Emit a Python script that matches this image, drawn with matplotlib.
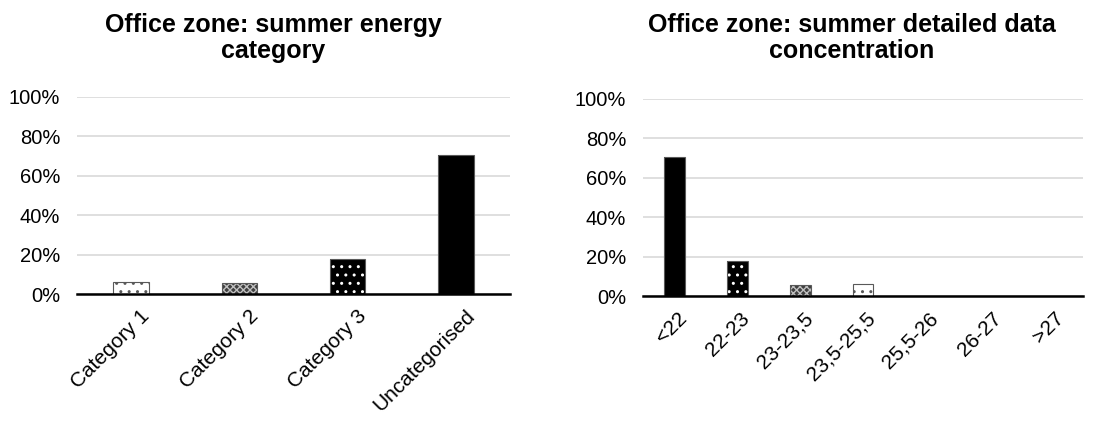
import matplotlib.pyplot as plt
import matplotlib.transforms as mtransforms
from matplotlib.ticker import PercentFormatter

plt.rcParams['font.family'] = ['Liberation Sans', 'DejaVu Sans']
plt.rcParams['hatch.linewidth'] = 1.0

# Data
energy_categories = ['Category 1', 'Category 2', 'Category 3', 'Uncategorised']
energy_values = [6.0, 5.5, 18.0, 70.5]

temp_ranges = ['<22', '22-23', '23-23,5', '23,5-25,5', '25,5-26', '26-27', '>27']
temp_values = [70.5, 18.0, 5.5, 6.0, 0.0, 0.0, 0.0]

# Fill style per category (face, hatch, hatch colour)
styles = {
    'Category 1': ('white', '..', '#595959'),
    'Category 2': ('#404040', 'xxxxx', '#bfbfbf'),
    'Category 3': ('black', '..', 'white'),
    'Uncategorised': ('black', '', 'black'),
}
temp_styles = ['Uncategorised', 'Category 3', 'Category 2', 'Category 1',
               'Category 1', 'Category 1', 'Category 1']

fig = plt.figure(figsize=(10.99, 4.21), dpi=100)
ax1 = fig.add_axes([77 / 1099, 1 - 294 / 421, 433 / 1099, 197 / 421])
ax2 = fig.add_axes([643 / 1099, 1 - 296 / 421, 440 / 1099, 197 / 421])


def draw(ax, labels, values, style_keys, dx):
    x = range(len(labels))
    for i, (v, key) in enumerate(zip(values, style_keys)):
        if v <= 0:
            continue
        face, hatch, hc = styles[key]
        ax.bar(i, v, width=0.33, color=face, hatch=hatch, edgecolor=hc,
               linewidth=0, zorder=3)
        ax.bar(i, v, width=0.33, color='none', edgecolor='#595959',
               linewidth=0.8, zorder=4)
    ax.set_xlim(-0.5, len(labels) - 0.5)
    ax.set_ylim(0, 100)
    ax.set_yticks(range(0, 101, 20))
    ax.yaxis.set_major_formatter(PercentFormatter(decimals=0))
    ax.set_xticks(list(x))
    ax.set_xticklabels(labels, rotation=45, ha='right', rotation_mode='anchor')
    ax.tick_params(axis='y', length=0, labelsize=14.5, pad=12)
    ax.tick_params(axis='x', length=0, labelsize=15, pad=9)
    # nudge the rotated labels right, like the original
    shift = mtransforms.ScaledTranslation(dx / 100, 0, fig.dpi_scale_trans)
    for lab in ax.get_xticklabels():
        lab.set_transform(lab.get_transform() + shift)
    ax.grid(axis='y', color='#d9d9d9', linewidth=1.2, zorder=0)
    for s in ['left', 'right', 'top']:
        ax.spines[s].set_visible(False)
    ax.spines['bottom'].set_linewidth(1.8)
    ax.spines['bottom'].set_zorder(5)


draw(ax1, energy_categories, energy_values, energy_categories, 9)
draw(ax2, temp_ranges, temp_values, temp_styles, 3)

fig.text(273 / 1099, 1 - 38 / 421, 'Office zone: summer energy\ncategory',
         ha='center', va='center', fontsize=18, fontweight='bold',
         linespacing=1.1)
fig.text(852 / 1099, 1 - 38 / 421, 'Office zone: summer detailed data\nconcentration',
         ha='center', va='center', fontsize=18, fontweight='bold',
         linespacing=1.1)

fig.savefig('out.png', dpi=100)
